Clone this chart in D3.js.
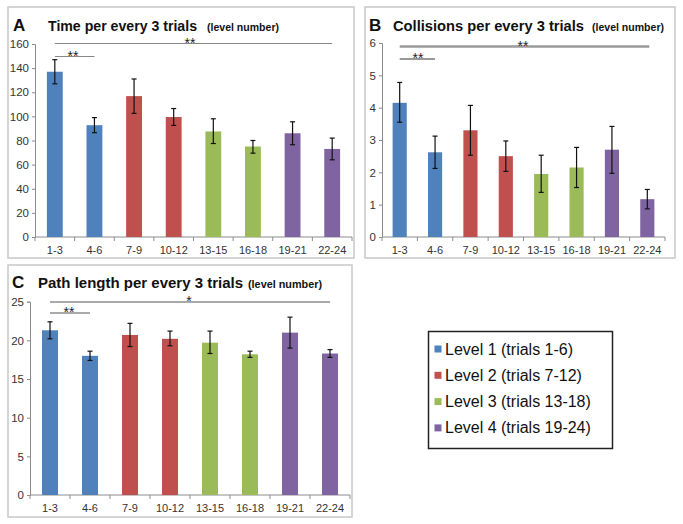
<!DOCTYPE html>
<html><head><meta charset="utf-8">
<script src="https://cdn.jsdelivr.net/npm/d3@7"></script>
<style>body{margin:0;background:#fff;font-family:"Liberation Sans",Arial,sans-serif}</style>
</head><body><svg id="c" width="683" height="524"></svg>
<script>
const categories = ["1-3","4-6","7-9","10-12","13-15","16-18","19-21","22-24"];
const levelOfCat = [0,0,1,1,2,2,3,3];
const levelColors = ["#4F81BD","#C0504D","#9BBB59","#8064A2"];
const legendLabels = ["Level 1 (trials 1-6)","Level 2 (trials 7-12)","Level 3 (trials 13-18)","Level 4 (trials 19-24)"];

const timeValues = [137, 92.7, 116.8, 99.5, 87.5, 75, 86, 73];
const timeErrHigh = [147, 99, 131, 106.5, 98, 80, 95.5, 82];
const timeErrLow  = [127, 86.5, 102.5, 92.5, 77.5, 69.5, 76.5, 64];
const timeTicks = [0,20,40,60,80,100,120,140,160];

const collValues = [4.15, 2.62, 3.3, 2.5, 1.95, 2.15, 2.7, 1.17];
const collErrHigh = [4.78, 3.12, 4.07, 2.97, 2.53, 2.77, 3.42, 1.47];
const collErrLow  = [3.55, 2.12, 2.53, 2.03, 1.38, 1.53, 1.97, 0.87];
const collTicks = [0,1,2,3,4,5,6];

const pathValues = [21.3, 18.0, 20.7, 20.2, 19.7, 18.2, 21.0, 18.3];
const pathErrHigh = [22.4, 18.6, 22.2, 21.2, 21.2, 18.6, 23.0, 18.8];
const pathErrLow  = [20.2, 17.4, 19.2, 19.3, 18.3, 17.8, 19.0, 17.8];
const pathTicks = [0,5,10,15,20,25];

const svg = d3.select("#c");
const FF = "Liberation Sans, Arial, sans-serif";

function panel(o){
  const g = svg.append("g");
  g.append("rect").attr("x",o.box[0]).attr("y",o.box[1]).attr("width",o.box[2]).attr("height",o.box[3])
    .attr("fill","#fff").attr("stroke","#c8c8c8").attr("stroke-width",1.5);
  g.append("text").attr("x",o.letterX).attr("y",o.titleY).attr("font-size",17).attr("font-weight","bold").attr("fill","#111").text(o.letter);
  g.append("text").attr("x",o.titleX).attr("y",o.titleY).attr("font-weight","bold").attr("fill","#111")
    .attr("font-size",15.5).attr("textLength",o.titleLen).attr("lengthAdjust","spacingAndGlyphs").text(o.title);
  g.append("text").attr("x",o.subX).attr("y",o.titleY).attr("font-weight","bold").attr("fill","#111")
    .attr("font-size",10.5).attr("textLength",o.subLen).attr("lengthAdjust","spacingAndGlyphs").text("(level number)");

  const x = d3.scaleBand().domain(categories).range([o.x0,o.x1]).paddingInner(0.6).paddingOuter(0.3);
  const y = d3.scaleLinear().domain([0,o.ticks[o.ticks.length-1]]).range([o.yBottom,o.yTop]);

  const ya = d3.axisLeft(y).tickValues(o.ticks).tickFormat(d3.format("d")).tickSize(3).tickPadding(3);
  const yg = g.append("g").attr("transform",`translate(${o.x0},0)`).call(ya);
  yg.select(".domain").attr("stroke","#8c8c8c");
  yg.selectAll(".tick line").attr("stroke","#8c8c8c");
  yg.selectAll("text").attr("font-size",11.5).attr("fill","#333").attr("font-family",FF);

  const xa = d3.axisBottom(x).tickSize(0).tickPadding(9);
  const xg = g.append("g").attr("transform",`translate(0,${o.yBottom})`).call(xa);
  xg.select(".domain").attr("stroke","#8c8c8c").attr("d",`M${o.x0},0H${o.x1}`);
  xg.selectAll("text").attr("font-size",11).attr("fill","#333").attr("font-family",FF);
  const step = x.step();
  const bounds = d3.range(categories.length+1).map(i=>o.x0 + (o.x1-o.x0)*i/categories.length);
  g.selectAll(".xt").data(bounds).enter().append("line")
    .attr("x1",d=>d).attr("x2",d=>d).attr("y1",o.yBottom).attr("y2",o.yBottom+4).attr("stroke","#8c8c8c");

  const bw = step*0.4;
  g.selectAll(".bar").data(o.values).enter().append("rect")
    .attr("x",(d,i)=>x(categories[i])+x.bandwidth()/2-bw/2)
    .attr("width",bw)
    .attr("y",d=>y(d)).attr("height",d=>o.yBottom-y(d))
    .attr("fill",(d,i)=>levelColors[levelOfCat[i]]);
  const eg = g.selectAll(".err").data(o.values).enter().append("g");
  eg.append("line").attr("x1",(d,i)=>x(categories[i])+x.bandwidth()/2).attr("x2",(d,i)=>x(categories[i])+x.bandwidth()/2)
    .attr("y1",(d,i)=>y(o.hi[i])).attr("y2",(d,i)=>y(o.lo[i])).attr("stroke","#111").attr("stroke-width",1.2);
  ["hi","lo"].forEach(k=>{
    eg.append("line").attr("x1",(d,i)=>x(categories[i])+x.bandwidth()/2-2.5).attr("x2",(d,i)=>x(categories[i])+x.bandwidth()/2+2.5)
      .attr("y1",(d,i)=>y(o[k][i])).attr("y2",(d,i)=>y(o[k][i])).attr("stroke","#111").attr("stroke-width",1.2);
  });

  o.sig.forEach(s=>{
    const xa0 = x(categories[s.from])+x.bandwidth()/2, xa1 = x(categories[s.to])+x.bandwidth()/2 + (s.ext||0);
    g.append("line").attr("x1",xa0).attr("x2",xa1).attr("y1",s.y).attr("y2",s.y).attr("stroke",s.color||"#777").attr("stroke-width",s.w||1.2);
    g.append("text").attr("x",s.tx!==undefined?s.tx:(xa0+xa1)/2).attr("y",s.y+4).attr("text-anchor","middle")
      .attr("font-size",14).attr("fill","#222").text(s.label);
  });
}

panel({box:[8,7,346,251], letter:"A", letterX:13, titleX:48, titleY:31, titleLen:149, subX:207, subLen:72, title:"Time per every 3 trials",
  x0:35, x1:352, yTop:44, yBottom:237, ticks:timeTicks, values:timeValues, hi:timeErrHigh, lo:timeErrLow,
  sig:[{from:0,to:7,y:43.5,label:"**",tx:190,color:"#888"},{from:0,to:1,y:56.5,label:"**",tx:73,color:"#888"}]});

panel({box:[365,7,310,251], letter:"B", letterX:369, titleX:393, titleY:31, titleLen:191, subX:592, subLen:72, title:"Collisions per every 3 trials",
  x0:382, x1:665, yTop:43, yBottom:237, ticks:collTicks, values:collValues, hi:collErrHigh, lo:collErrLow,
  sig:[{from:0,to:7,y:46.5,label:"**",tx:523,color:"#9a9a9a",w:2.5,ext:2},{from:0,to:1,y:59,label:"**",tx:418,color:"#999",w:2}]});

panel({box:[8,265,344,252], letter:"C", letterX:12, titleX:38, titleY:288, titleLen:205, subX:248, subLen:74, title:"Path length per every 3 trials",
  x0:30, x1:350, yTop:301.7, yBottom:495, ticks:pathTicks, values:pathValues, hi:pathErrHigh, lo:pathErrLow,
  sig:[{from:0,to:7,y:302,label:"*",tx:189,color:"#555",w:1},{from:0,to:1,y:313,label:"**",tx:69,color:"#555",w:1}]});

const lg = svg.append("g");
lg.append("rect").attr("x",428.5).attr("y",331.5).attr("width",184).attr("height",117).attr("fill","#fff").attr("stroke","#222").attr("stroke-width",1.5);
const items = lg.selectAll(".li").data(legendLabels).enter().append("g")
  .attr("transform",(d,i)=>`translate(0,${349+i*26.3})`);
items.append("rect").attr("x",434.5).attr("y",-3.5).attr("width",7).attr("height",7).attr("fill",(d,i)=>levelColors[i]);
items.append("text").attr("x",445).attr("y",5.5).attr("font-size",16).attr("fill","#111").text(d=>d);
</script></body></html>
